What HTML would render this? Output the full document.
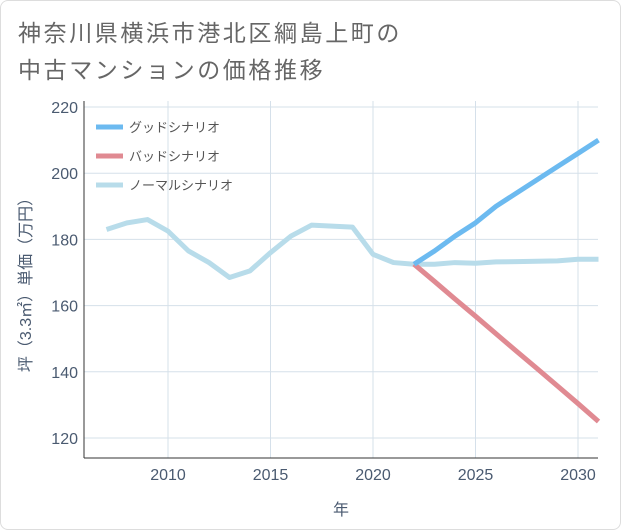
<!DOCTYPE html>
<html><head><meta charset="utf-8"><style>
body{margin:0;background:#fff;font-family:"Liberation Sans","Noto Sans CJK JP",sans-serif}
#wrap{position:relative;width:619px;height:528px;border:1px solid #ddd;border-radius:8px;overflow:hidden}
.title{position:absolute;left:17px;top:14px;font-size:23px;letter-spacing:2.6px;line-height:37px;color:#666}
</style></head><body>
<div id="wrap">
<div class="title">神奈川県横浜市港北区綱島上町の<br>中古マンションの価格推移</div>
<svg id="svg" width="621" height="530" style="position:absolute;left:0;top:0"></svg>
</div>
<script>
const years=[2007,2008,2009,2010,2011,2012,2013,2014,2015,2016,2017,2018,2019,2020,2021,2022,2023,2024,2025,2026,2027,2028,2029,2030,2031];
const normal=[183,185,186,182.5,176.5,173,168.5,170.5,176,181,184.3,184,183.7,175.5,173,172.5,172.5,173,172.8,173.2,173.3,173.4,173.5,174,174];
const futureYears=[2022,2023,2024,2025,2026,2027,2028,2029,2030,2031];
const good=[172.5,176.5,181,185,190,194,198,202,206,210];
const bad=[172.5,167.3,162,156.8,151.5,146.2,141,135.7,130.4,125];
const yTicks=[120,140,160,180,200,220];
const xTicks=[2010,2015,2020,2025,2030];
const L=83,R=597,T=100,B=457;
const x=v=>167+(v-2010)*20.5;
const y=v=>437-(v-120)*3.31;
const svg=document.getElementById('svg');
const NS='http://www.w3.org/2000/svg';
function mk(t,a,name){const e=document.createElementNS(NS,t);for(const k in a)e.setAttribute(k,a[k]);


svg.appendChild(e);return e;}
yTicks.forEach(v=>{mk('line',{x1:L,x2:R,y1:y(v),y2:y(v),stroke:'#d5e0ea'},'y-grid');
const t=mk('text',{x:L-6,y:y(v)+6,'text-anchor':'end','font-size':16,fill:'#4a5a70'},'y-tick-label');t.textContent=v;});
xTicks.forEach(v=>{mk('line',{x1:x(v),x2:x(v),y1:T,y2:B,stroke:'#d5e0ea'},'x-grid');
const t=mk('text',{x:x(v),y:B+22,'text-anchor':'middle','font-size':16,fill:'#4a5a70'},'x-tick-label');t.textContent=v;});
mk('line',{x1:L,x2:L,y1:T,y2:B,stroke:'#333'},'y-axis');
mk('line',{x1:L,x2:R,y1:B,y2:B,stroke:'#333'},'x-axis');
function line(xs,vs,c,name){mk('polyline',{points:xs.map((v,i)=>x(v)+','+y(vs[i])).join(' '),fill:'none',stroke:c,'stroke-width':5,'stroke-linejoin':'round'},name);}
line(years,normal,'#b8dcea','normal-line');
line(futureYears,bad,'#e08a92','bad-line');
line(futureYears,good,'#6cbaf0','good-line');
const leg=[['グッドシナリオ','#6cbaf0'],['バッドシナリオ','#e08a92'],['ノーマルシナリオ','#b8dcea']];
leg.forEach((l,i)=>{const yy=126+i*29;mk('line',{x1:95,x2:122,y1:yy,y2:yy,stroke:l[1],'stroke-width':5},'legend-swatch');
const t=mk('text',{x:128,y:yy+5,'font-size':13,fill:'#555'},'legend-label');t.textContent=l[0];});
const yl=mk('text',{x:0,y:0,'font-size':16,fill:'#4a5a70','text-anchor':'middle',transform:'translate(30,280) rotate(-90)'},'y-axis-title');yl.textContent='坪（3.3㎡）単価（万円）';
const xl=mk('text',{x:340,y:514,'font-size':16,fill:'#4a5a70','text-anchor':'middle'},'x-axis-title');xl.textContent='年';
</script>
</body></html>
